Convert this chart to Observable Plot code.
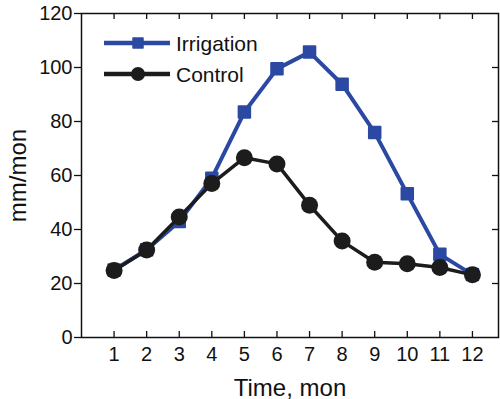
<!DOCTYPE html>
<html>
<head>
<meta charset="utf-8">
<script src="https://cdn.jsdelivr.net/npm/d3@7"></script>
<script src="https://cdn.jsdelivr.net/npm/@observablehq/plot@0.6"></script>
<style>
  html, body { margin: 0; padding: 0; background: #fff; }
  #wrap { position: relative; width: 500px; height: 399px; font-family: "Liberation Sans", Arial, Helvetica, sans-serif; }
  #legend { position: absolute; left: 0; top: 0; pointer-events: none; }
</style>
</head>
<body>
<div id="wrap"></div>
<script>
const months = [1, 2, 3, 4, 5, 6, 7, 8, 9, 10, 11, 12];
const irrigation = [25, 32.5, 43, 59, 83.5, 99.5, 105.7, 93.8, 75.9, 53.2, 30.8, 23.3];
const control = [24.8, 32.4, 44.6, 57, 66.6, 64.3, 49, 35.7, 27.9, 27.3, 25.9, 23.2];
const yTicks = [0, 20, 40, 60, 80, 100, 120];
const rightTicks = [20, 40, 60, 80, 100];
const seriesNames = ["Irrigation", "Control"];
const seriesColors = ["#2b49a3", "#1c1c1c"];

const irrData = months.map((m, i) => ({month: m, value: irrigation[i]}));
const ctrlData = months.map((m, i) => ({month: m, value: control[i]}));

const W = 500, H = 399;
const mL = 81, mR = 2, mT = 13, mB = 62;
const innerH = H - mT - mB, innerW = W - mL - mR;

const chart = Plot.plot({
  width: W,
  height: H,
  marginLeft: mL,
  marginRight: mR,
  marginTop: mT,
  marginBottom: mB,
  style: {fontFamily: "'Liberation Sans', Arial, Helvetica, sans-serif", fontSize: "20px", color: "#111", background: "#fff"},
  x: {domain: [0, 12.8]},
  y: {domain: [0, 120]},
  marks: [
    Plot.frame({stroke: "#111", strokeWidth: 1.5}),
    // inward ticks: bottom, top, right
    Plot.gridX(months, {stroke: "#111", strokeOpacity: 1, strokeWidth: 1.3, insetTop: innerH - 6}),
    Plot.gridX(months, {stroke: "#111", strokeOpacity: 1, strokeWidth: 1.3, insetBottom: innerH - 6}),
    Plot.gridY(rightTicks, {stroke: "#111", strokeOpacity: 1, strokeWidth: 1.3, insetLeft: innerW - 6}),
    Plot.axisX(months, {tickSize: 0, tickPadding: 9, fontSize: 20, label: "Time, mon", labelAnchor: "center", labelOffset: 58, labelArrow: "none"}),
    Plot.axisY(yTicks, {tickSize: 7, tickPadding: 2, fontSize: 20, strokeWidth: 1.3, label: "mm/mon", labelAnchor: "center", labelOffset: 73, labelArrow: "none"}),
    Plot.line(irrData, {x: "month", y: "value", stroke: seriesColors[0], strokeWidth: 4}),
    Plot.dot(irrData, {x: "month", y: "value", symbol: "square", r: 6.5, fill: seriesColors[0], stroke: seriesColors[0], strokeWidth: 2, strokeLinejoin: "round"}),
    Plot.line(ctrlData, {x: "month", y: "value", stroke: seriesColors[1], strokeWidth: 3.5}),
    Plot.dot(ctrlData, {x: "month", y: "value", r: 8.5, fill: seriesColors[1]})
  ]
});
chart.querySelectorAll("[aria-label='x-axis label'] text, [aria-label='y-axis label'] text").forEach(t => t.setAttribute("font-size", "24"));
document.getElementById("wrap").appendChild(chart);

// legend overlay
const leg = d3.select("#wrap").append("svg").attr("id", "legend").attr("width", W).attr("height", H);
const g = leg.selectAll("g").data(seriesNames).join("g")
  .attr("transform", (d, i) => `translate(0,${43 + i * 31})`);
g.append("line").attr("x1", 104).attr("x2", 170).attr("y1", 0).attr("y2", 0)
  .attr("stroke", (d, i) => seriesColors[i]).attr("stroke-width", 4.5);
g.each(function(d, i) {
  const s = d3.select(this);
  if (i === 0) {
    s.append("rect").attr("x", 133).attr("y", -5).attr("width", 10).attr("height", 10)
      .attr("fill", seriesColors[i]).attr("stroke", seriesColors[i]).attr("stroke-width", 1.5).attr("stroke-linejoin", "round");
  } else {
    s.append("circle").attr("cx", 138).attr("cy", 0).attr("r", 7).attr("fill", seriesColors[i]);
  }
});
g.append("text").attr("x", 176).attr("y", 7.5).attr("font-size", 21)
  .attr("font-family", "'Liberation Sans', Arial, sans-serif").attr("fill", "#111").text(d => d);
</script>
</body>
</html>
